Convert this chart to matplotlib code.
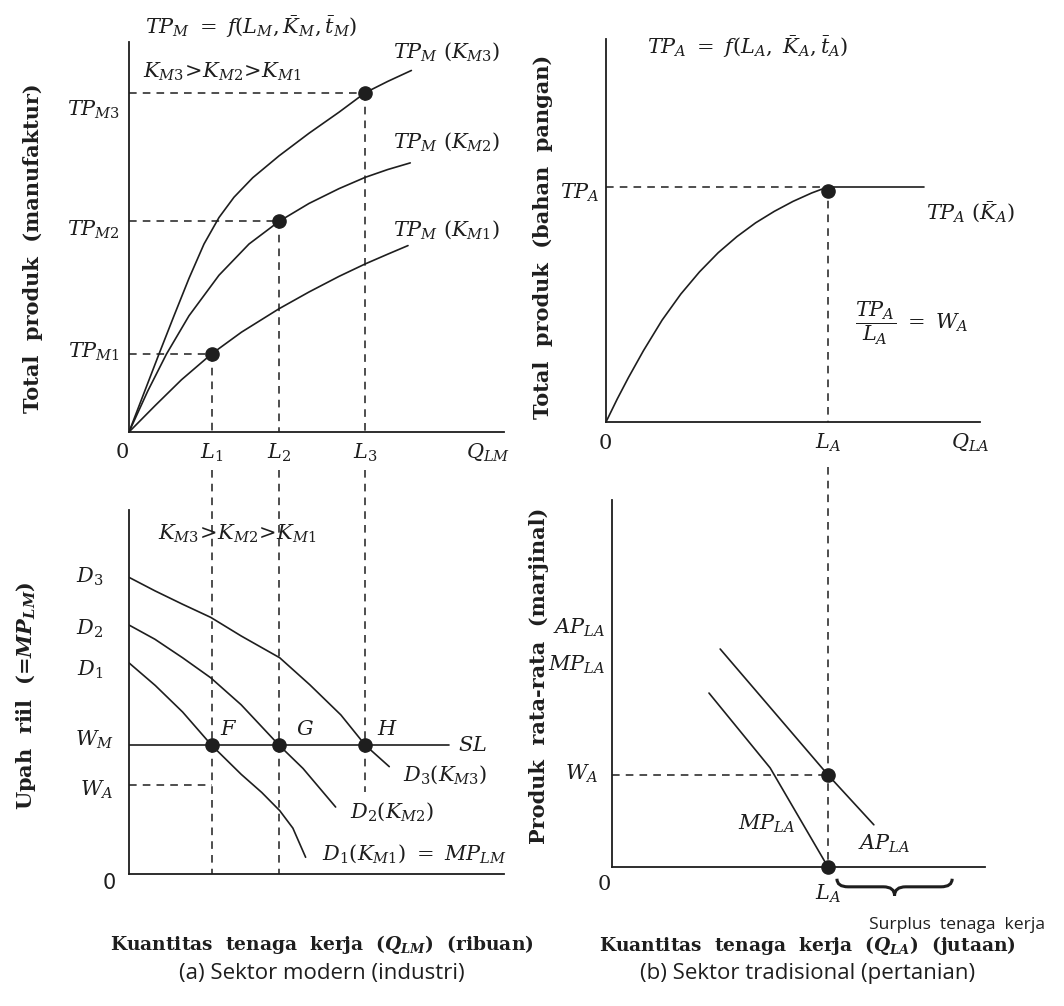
import matplotlib.pyplot as plt
from matplotlib.path import Path
from matplotlib.patches import PathPatch

plt.rcParams['mathtext.fontset'] = 'dejavuserif'
plt.rcParams['font.family'] = 'DejaVu Serif'

INK = '#1e1e1e'

# ---------- (a) modern sector, total product (units 0-100 on both axes)
L_M = [22, 40, 63]                       # L1, L2, L3
TP_M = [20, 54, 87]                      # TP_M1, TP_M2, TP_M3
k3_x = [0, 4, 8, 12, 16, 20, 24, 28, 33, 40, 48, 56, 63, 69, 75.3]
k3_y = [0, 10, 20, 29.8, 39.4, 48.2, 55.0, 60.2, 65.2, 70.8, 76.6, 82.0, 87, 89.9, 92.7]
k2_x = [0, 5, 10, 16, 24, 32, 40, 48, 56, 63, 69, 75]
k2_y = [0, 10.5, 20, 29.8, 40.2, 48.2, 54, 58.6, 62.4, 65.3, 67.3, 69.0]
k1_x = [0, 7, 14, 22, 30, 40, 48, 56, 63, 69, 74.4]
k1_y = [0, 6.8, 13.4, 20, 25.6, 31.6, 35.9, 39.9, 43.1, 45.6, 47.8]

# ---------- (a) modern sector, labour demand
W_M = 35.4
W_A_low = 24.5
sl_end = 85.4
d3_x = [0, 6.9, 14.3, 21.8, 29.9, 40.2, 48.2, 56.5, 63, 69.4]
d3_y = [81.5, 77.8, 74.1, 70.5, 65.4, 59.4, 52.0, 43.7, 35.4, 29.5]
d2_x = [0, 6.9, 14.3, 21.8, 29.9, 40, 46.4, 55.1]
d2_y = [68.4, 64.5, 59.4, 53.9, 46.5, 35.4, 29.0, 18.4]
d1_x = [0, 7, 14.3, 22, 29.9, 35.4, 40.2, 43.7, 47.1]
d1_y = [58.0, 51.8, 44.5, 35.4, 27.4, 22.4, 17.4, 12.6, 4.6]

# ---------- (b) traditional sector, total product
L_A_top = 59.4
TP_A = 61.4
plateau_end = 85
tpa_x = [0, 3, 6, 10, 15, 20, 25, 30, 35, 40, 45, 50, 55, 59.4]
tpa_y = [0, 6.0, 11.6, 18.6, 26.6, 33.4, 39.2, 44.2, 48.4, 52.0, 55.0, 57.6, 59.8, 61.4]

# ---------- (b) traditional sector, average / marginal product
L_A_bot = 57.9
W_A = 25.1
ap_x = [29, 57.9, 70.2]
ap_y = [59.4, 25.1, 11.5]
mp_x = [26.0, 42.4, 57.9]
mp_y = [47.4, 27.0, 0]
surplus = [60.3, 91.2]

W, H = 1064, 1006
fig = plt.figure(figsize=(W / 100, H / 100), dpi=100)

line = dict(color=INK, lw=1.2, solid_capstyle='round', solid_joinstyle='round')
dash = dict(color=INK, lw=1.1, ls=(0, (5, 4)), clip_on=False)
dot = dict(ls='', marker='o', ms=9.5, color=INK, clip_on=False, zorder=5)


def panel(x0, y0, x1, y1):
    # box of the two axis lines, in pixels of the picture
    ax = fig.add_axes([x0 / W, 1 - y1 / H, (x1 - x0) / W, (y1 - y0) / H])
    ax.set_xlim(0, 100)
    ax.set_ylim(0, 100)
    for s in ['top', 'right']:
        ax.spines[s].set_visible(False)
    for s in ['left', 'bottom']:
        ax.spines[s].set_color(INK)
        ax.spines[s].set_linewidth(1.3)
    ax.set_xticks([])
    ax.set_yticks([])
    ax.patch.set_alpha(0)
    return ax


def lab(ax, x, y, s, ha='left', va='center', size=15, **kw):
    ax.text(x, y, s, ha=ha, va=va, fontsize=size, color=INK, clip_on=False, **kw)


def ytitle(ax, x, y, s):
    ax.text(x, y, s, rotation=90, ha='center', va='center', fontsize=15,
            fontweight='bold', color=INK, clip_on=False)


def xtitle(ax, x, y, s, caption):
    ax.text(x, y, s, ha='center', va='center', fontsize=13.4, fontweight='bold',
            color=INK, clip_on=False)
    ax.text(x, y - 7.8, caption, ha='center', va='center', fontsize=16,
            family='Open Sans', color=INK, clip_on=False)


# ================= top left
ax = panel(129, 42, 504, 432)
for x, y in zip(L_M, TP_M):
    ax.plot([0, x], [y, y], **dash)
    ax.plot([x, x], [y, 0], **dash)
ax.plot(k3_x, k3_y, **line)
ax.plot(k2_x, k2_y, **line)
ax.plot(k1_x, k1_y, **line)
ax.plot(L_M, TP_M, **dot)

lab(ax, -1.9, -5.3, r'$0$', ha='center')
for i, x in enumerate(L_M):
    lab(ax, x, -5.3, r'$L_{%d}$' % (i + 1), ha='center')
lab(ax, 95.7, -5.3, r'$Q_{LM}$', ha='center')
for i, y in enumerate([20.5, 51.8, 82.6]):
    lab(ax, -2.4, y, r'$TP_{M%d}$' % (i + 1), ha='right')
for i, y in enumerate([51.8, 74.4, 97.4]):
    lab(ax, 70.4, y, r'$TP_M\ (K_{M%d})$' % (i + 1))
lab(ax, 4.3, 104, r'$TP_M\ =\ f(L_M,\bar{K}_M,\bar{t}_M)$')
lab(ax, 3.7, 92.3, r'$K_{M3}\!>\!K_{M2}\!>\!K_{M1}$')
ytitle(ax, -25.6, 47.2, 'Total  produk  (manufaktur)')

# ================= top right
ax = panel(606, 39, 980, 422)
ax.plot([0, L_A_top], [TP_A, TP_A], **dash)
ax.plot([L_A_top, L_A_top], [TP_A, 0], **dash)
ax.plot(tpa_x, tpa_y, **line)
ax.plot([L_A_top, plateau_end], [TP_A, TP_A], **line)
ax.plot([L_A_top], [TP_A - 1], **dot)

lab(ax, -0.3, -5.5, r'$0$', ha='center')
lab(ax, L_A_top, -5.5, r'$L_A$', ha='center')
lab(ax, 97.3, -5.5, r'$Q_{LA}$', ha='center')
lab(ax, -1.6, 59.8, r'$TP_A$', ha='right')
lab(ax, 11, 97.9, r'$TP_A\ =\ f(L_A,\ \bar{K}_A,\bar{t}_A)$')
lab(ax, 85.6, 54.6, r'$TP_A\ (\bar{K}_A)$')
lab(ax, 66.5, 25.8, r'$\dfrac{TP_A}{L_A}\ =\ W_A$', size=15)
ytitle(ax, -16.8, 48.3, 'Total  produk  (bahan  pangan)')

# ================= bottom left
ax = panel(129, 510, 504, 874)
for x in L_M[:2]:
    ax.plot([x, x], [111, 0], **dash)
ax.plot([L_M[2], L_M[2]], [111, 22.5], **dash)
ax.plot([0, L_M[0]], [W_A_low, W_A_low], **dash)
ax.plot([0, sl_end], [W_M, W_M], **line)
ax.plot(d3_x, d3_y, **line)
ax.plot(d2_x, d2_y, **line)
ax.plot(d1_x, d1_y, **line)
ax.plot(L_M, [W_M] * 3, **dot)

lab(ax, -7, -2.4, '0', family='DejaVu Sans')
for i, y in enumerate([56.2, 67.3, 81.6]):
    lab(ax, -6.9, y, r'$D_{%d}$' % (i + 1), ha='right')
lab(ax, -4.1, 36.8, r'$W_M$', ha='right')
lab(ax, -4.1, 23.1, r'$W_A$', ha='right')
lab(ax, 7.8, 93.4, r'$K_{M3}\!>\!K_{M2}\!>\!K_{M1}$')
for x, s in zip([24.3, 44.6, 66.1], 'FGH'):
    lab(ax, x, 39.6, r'$%s$' % s)
lab(ax, 87.7, 35.4, r'$SL$')
lab(ax, 73, 27.2, r'$D_3(K_{M3})$')
lab(ax, 58.8, 17.0, r'$D_2(K_{M2})$')
lab(ax, 51.5, 5.5, r'$D_1(K_{M1})\ =\ MP_{LM}$')
ytitle(ax, -27.5, 48.9, r'Upah  riil  (=$\mathbfit{MP}_{\mathbfit{LM}}$)')
xtitle(ax, 51.5, -19.5, r'Kuantitas  tenaga  kerja  ($\mathbfit{Q}_{\mathbfit{LM}}$)  (ribuan)',
       '(a) Sektor modern (industri)')

# ================= bottom right
ax = panel(612, 500, 985, 867)
ax.plot([L_A_bot, L_A_bot], [109, 0], **dash)
ax.plot([0, L_A_bot], [W_A, W_A], **dash)
ax.plot(ap_x, ap_y, **line)
ax.plot(mp_x, mp_y, **line)
ax.plot([L_A_bot, L_A_bot], [W_A, 0], **dot)

# brace under the surplus labour
xa, xb = surplus
xm = (xa + xb) / 2
y0, y1, y2 = -3.2, -5.4, -7.8
verts = [(xa, y0), (xa, y1), (xa + 3, y1), (xm - 3, y1), (xm, y1), (xm, y2),
         (xm, y1), (xm + 3, y1), (xb - 3, y1), (xb, y1), (xb, y0)]
codes = [Path.MOVETO, Path.CURVE3, Path.CURVE3, Path.LINETO, Path.CURVE3, Path.CURVE3,
         Path.CURVE3, Path.CURVE3, Path.LINETO, Path.CURVE3, Path.CURVE3]
ax.add_patch(PathPatch(Path(verts, codes), fill=False, lw=2.2, color=INK, clip_on=False))

lab(ax, -2.1, -4.9, r'$0$', ha='center')
lab(ax, L_A_bot, -7.3, r'$L_A$', ha='center')
lab(ax, -1.9, 65.2, r'$AP_{LA}$', ha='right')
lab(ax, -1.9, 55.2, r'$MP_{LA}$', ha='right')
lab(ax, -3.8, 25.5, r'$W_A$', ha='right')
lab(ax, 33.9, 11.7, r'$MP_{LA}$')
lab(ax, 66, 6.3, r'$AP_{LA}$')
ax.text(68.9, -15.8, 'Surplus  tenaga  kerja', ha='left', va='center', fontsize=12.6,
        family='Open Sans', color=INK, clip_on=False)
ytitle(ax, -19.6, 52, 'Produk  rata-rata  (marjinal)')
xtitle(ax, 52.5, -21.3, r'Kuantitas  tenaga  kerja  ($\mathbfit{Q}_{\mathbfit{LA}}$)  (jutaan)',
       '(b) Sektor tradisional (pertanian)')

fig.savefig('out.png', dpi=100, facecolor='white')
